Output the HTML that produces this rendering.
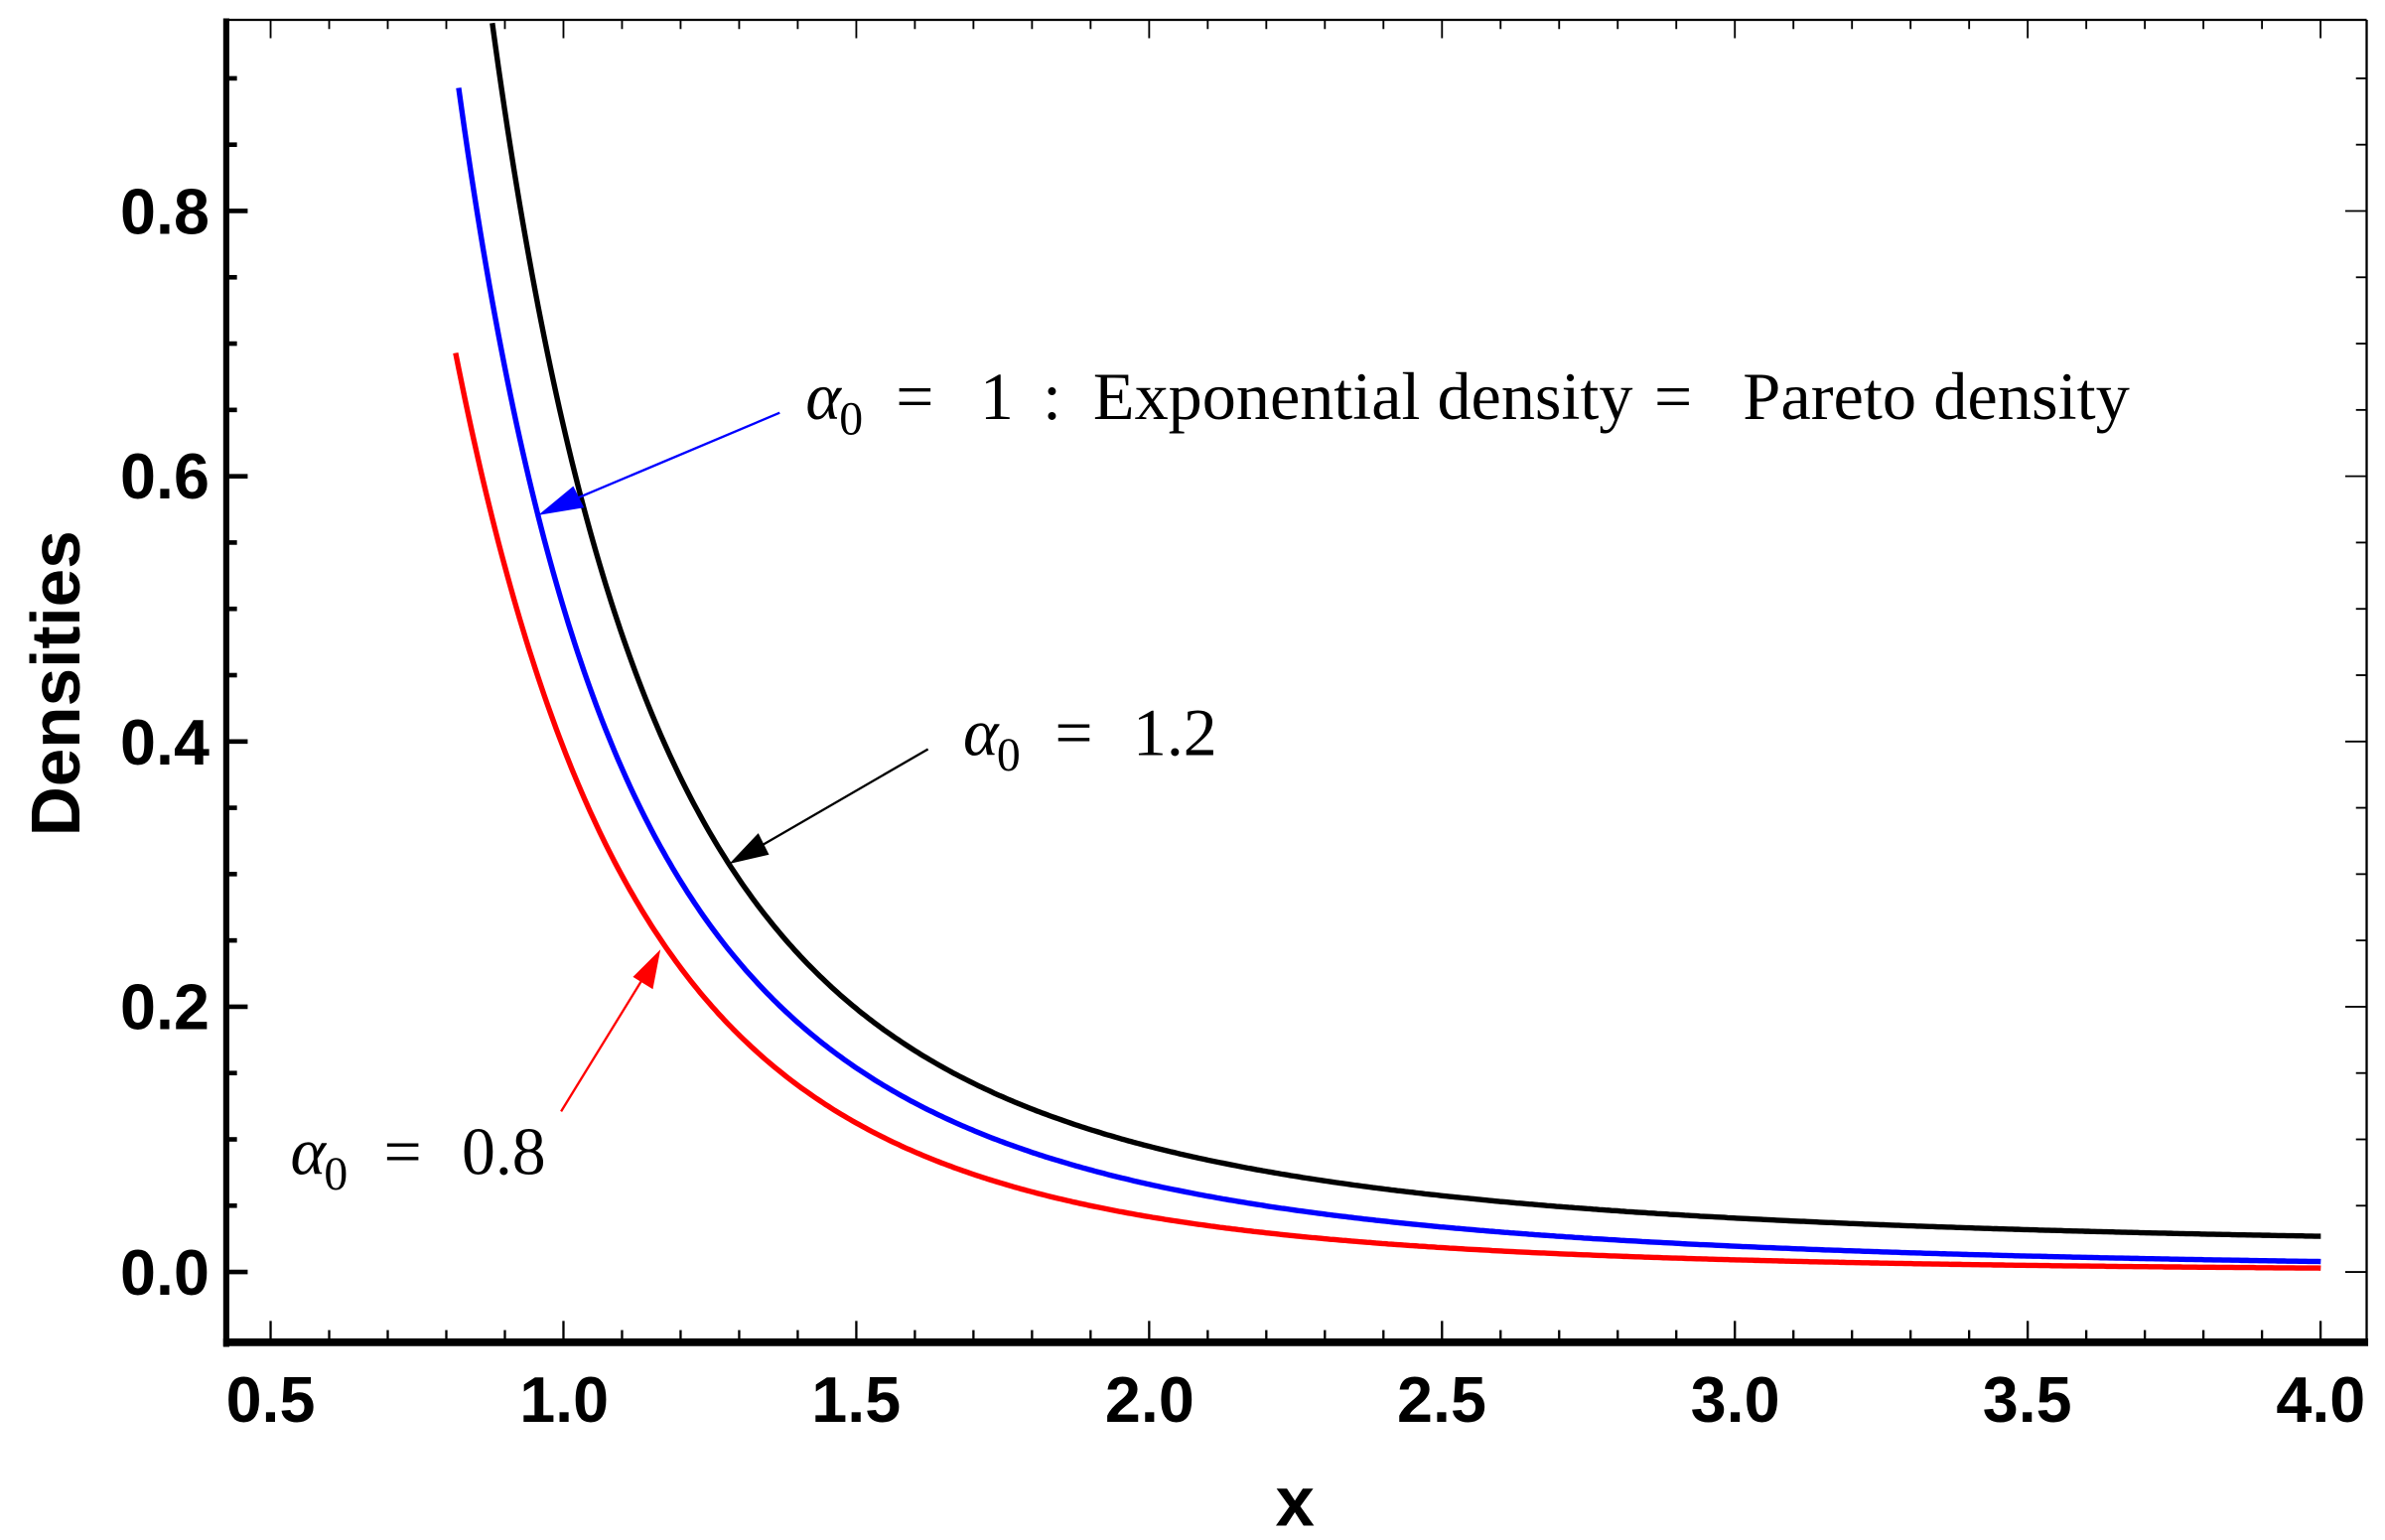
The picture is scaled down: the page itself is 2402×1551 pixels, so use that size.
<!DOCTYPE html>
<html><head><meta charset="utf-8"><style>html,body{margin:0;padding:0;background:#fff}svg{display:block}</style></head><body>
<svg id="s" width="2402" height="1551" viewBox="0 0 1560 1007.3" preserveAspectRatio="none" xmlns="http://www.w3.org/2000/svg">
<rect width="1560" height="1008" fill="#fff"/>
<g id="ticks" stroke="#000"></g>
<line x1="148" y1="13" x2="1548" y2="13" stroke="#000" stroke-width="1.5"/>
<line x1="1548" y1="13" x2="1548" y2="880" stroke="#000" stroke-width="1.5"/>
<line x1="148" y1="12" x2="148" y2="881" stroke="#000" stroke-width="4"/>
<line x1="146" y1="878" x2="1549" y2="878" stroke="#000" stroke-width="5"/>
<path id="cb" fill="none" stroke="#000" stroke-width="3.5"/>
<path id="cu" fill="none" stroke="#0000ff" stroke-width="3.5"/>
<path id="cr" fill="none" stroke="#ff0000" stroke-width="3.5"/>
<g font-family="Liberation Sans, sans-serif" font-weight="bold" font-size="42" text-anchor="end">
<text x="137" y="847">0.0</text><text x="137" y="673">0.2</text><text x="137" y="500">0.4</text><text x="137" y="326">0.6</text><text x="137" y="153">0.8</text>
</g>
<g font-family="Liberation Sans, sans-serif" font-weight="bold" font-size="42" text-anchor="middle">
<text x="177" y="930">0.5</text><text x="369" y="930">1.0</text><text x="560" y="930">1.5</text><text x="752" y="930">2.0</text><text x="943" y="930">2.5</text><text x="1135" y="930">3.0</text><text x="1326" y="930">3.5</text><text x="1518" y="930">4.0</text>
<text x="847" y="998" font-size="46">x</text>
<text transform="translate(52,447) rotate(-90)" font-size="45">Densities</text>
</g>
<g font-family="Liberation Serif, serif" font-size="44">
<text x="527" y="274" font-style="italic">α</text><text x="549" y="284" font-size="31">0</text>
<text x="586" y="274">=</text><text x="641" y="274">1</text><text x="682" y="274">:</text>
<text x="715" y="274" textLength="353" lengthAdjust="spacingAndGlyphs">Exponential density</text>
<text x="1082" y="274">=</text>
<text x="1140" y="274" textLength="253" lengthAdjust="spacingAndGlyphs">Pareto density</text>

<text x="630" y="494" font-style="italic">α</text><text x="652" y="504" font-size="31">0</text>
<text x="690" y="494">=</text><text x="741" y="494">1.2</text>

<text x="190" y="768" font-style="italic">α</text><text x="212" y="778" font-size="31">0</text>
<text x="251" y="768">=</text><text x="302" y="768">0.8</text>
</g>
<line x1="510" y1="270" x2="370" y2="329" stroke="#0000ff" stroke-width="1.5"/>
<polygon points="352,337 375,318 382,332" fill="#0000ff"/>
<line x1="607" y1="490" x2="493" y2="556" stroke="#000" stroke-width="1.5"/>
<polygon points="477,565 496,545 503,559" fill="#000"/>
<line x1="367" y1="727" x2="423" y2="636" stroke="#ff0000" stroke-width="1.5"/>
<polygon points="432,621 427,647 414,639" fill="#ff0000"/>
</svg>
<script>
var X=function(v){return 177+(v-0.5)*383.1},Y=function(v){return 832-v*867.5};
var IX=function(p){return 0.5+(p-177)/383.1},IY=function(p){return (832-p)/867.5};
var t='';
for(var i=5;i<=40;i++){var v=i/10,x=X(v),L=(i%5==0)?12:6;t+='<line x1="'+x+'" y1="876" x2="'+x+'" y2="'+(876-L)+'" stroke-width="1.5"/>';t+='<line x1="'+x+'" y1="13" x2="'+x+'" y2="'+(13+L)+'" stroke-width="1.2"/>';}
for(var j=0;j<=18;j++){var v=j*0.05,y=Y(v);if(y<13)continue;var L=(j%4==0)?14:7;t+='<line x1="148" y1="'+y+'" x2="'+(148+L)+'" y2="'+y+'" stroke-width="3"/>';t+='<line x1="1548" y1="'+y+'" x2="'+(1548-L)+'" y2="'+y+'" stroke-width="1.2"/>';}
document.getElementById('ticks').innerHTML=t;
function fit(P,deg){var n=deg+1,A=[],B=[];for(var i=0;i<n;i++){A.push(new Array(n).fill(0));B.push(0);}
 P.forEach(function(p){var lx=Math.log(IX(p[0])),ly=Math.log(IY(p[1]));for(var i=0;i<n;i++){B[i]+=Math.pow(lx,i)*ly;for(var j=0;j<n;j++)A[i][j]+=Math.pow(lx,i+j);}});
 for(var c=0;c<n;c++){var m=c;for(var r=c+1;r<n;r++)if(Math.abs(A[r][c])>Math.abs(A[m][c]))m=r;var tA=A[c];A[c]=A[m];A[m]=tA;var tb=B[c];B[c]=B[m];B[m]=tb;
  for(var r=0;r<n;r++){if(r==c)continue;var f=A[r][c]/A[c][c];for(var k=c;k<n;k++)A[r][k]-=f*A[c][k];B[r]-=f*B[c];}}
 return B.map(function(b,i){return b/A[i][i]});}
function draw(id,P,x0){var co=fit(P,3),d='';
 for(var px=x0;px<=1518.01;px+=2){var lx=Math.log(IX(px)),ly=0;for(var i=0;i<co.length;i++)ly+=co[i]*Math.pow(lx,i);var py=Y(Math.exp(ly));if(py<11){continue;}d+=(d?'L':'M')+px.toFixed(1)+','+py.toFixed(1);}
 document.getElementById(id).setAttribute('d',d);}
draw('cb',[[321,11],[349,195],[381,325],[401,391],[424,457],[451,524],[477,563],[510,610],[557,656],[623,702],[706,739],[842,769],[943,782],[1135,796],[1326,804],[1518,809]],300);
draw('cu',[[300,57],[323,195],[350,325],[365,391],[391,467],[424,540],[464,610],[510,656],[590,716],[689,756],[842,792],[943,802],[1135,815],[1326,822],[1518,825]],300);
draw('cr',[[298,218],[316,318],[345,418],[384,537],[431,620],[484,676],[557,729],[656,772],[752,796],[842,808],[943,817],[1135,824],[1326,827.5],[1518,829.5]],298);
</script>
</body></html>
